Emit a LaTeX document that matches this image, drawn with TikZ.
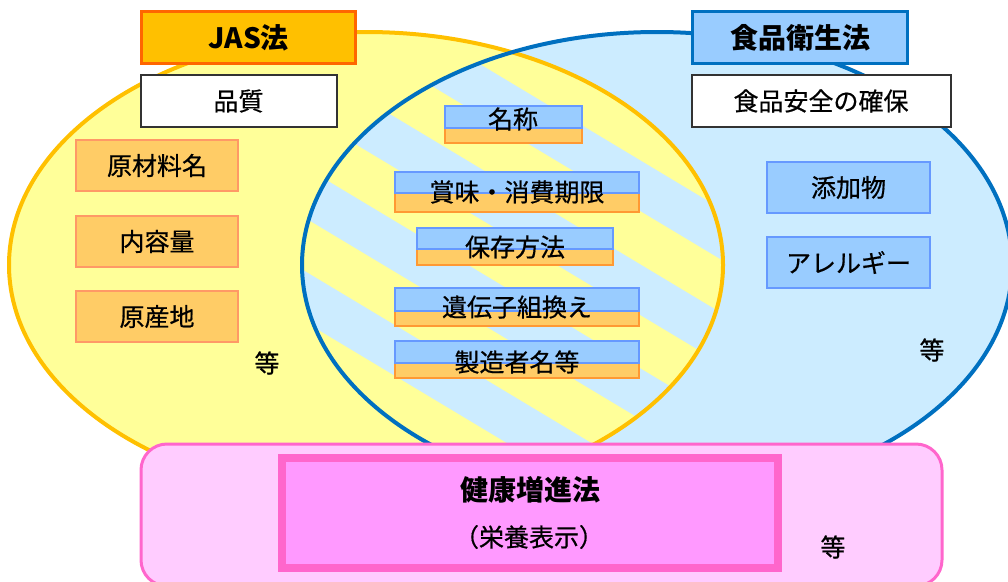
\documentclass[tikz,border=0pt]{standalone}
\usepackage{fontspec}
\setmainfont{Noto Sans CJK JP}
\newfontfamily\medjp{Noto Sans CJK JP}[FakeBold=0.6]
\definecolor{yelFill}{HTML}{FFFF99}
\definecolor{yelLine}{HTML}{FFC000}
\definecolor{bluFill}{HTML}{CCECFF}
\definecolor{bluLine}{HTML}{0070C0}
\definecolor{jasFill}{HTML}{FFC000}
\definecolor{jasLine}{HTML}{FF6600}
\definecolor{hygFill}{HTML}{99CCFF}
\definecolor{oBoxFill}{HTML}{FFCC66}
\definecolor{oBoxLine}{HTML}{FF9966}
\definecolor{oBotLine}{HTML}{FF9933}
\definecolor{bBoxFill}{HTML}{99CCFF}
\definecolor{bBoxLine}{HTML}{6699FF}
\definecolor{pinkFill}{HTML}{FFCCFF}
\definecolor{pinkLine}{HTML}{FF66CC}
\definecolor{pinkIn}{HTML}{FF99FF}
\definecolor{darkLine}{HTML}{333333}
\begin{document}
\begin{tikzpicture}[x=1pt,y=-1pt,
  txt/.style={font=\medjp\fontsize{25}{30}\selectfont, inner sep=0pt},
  ttl/.style={font=\fontsize{28}{32}\selectfont\bfseries, inner sep=0pt},
  obox/.style={draw=oBoxLine, fill=oBoxFill, line width=2pt, minimum width=162pt, minimum height=51pt, inner sep=0pt, font=\medjp\fontsize{25}{30}\selectfont},
  bbox/.style={draw=bBoxLine, fill=bBoxFill, line width=2pt, minimum width=163pt, minimum height=51pt, inner sep=0pt, font=\medjp\fontsize{25}{30}\selectfont},
  wbox/.style={draw=darkLine, fill=white, line width=2pt, minimum height=52pt, inner sep=0pt, font=\medjp\fontsize{25}{30}\selectfont},
  ctop/.style={draw=bBoxLine, fill=bBoxFill, line width=2pt, inner sep=0pt},
  cbot/.style={draw=oBotLine, fill=oBoxFill, line width=2pt, inner sep=0pt}
]
\useasboundingbox (0,0) rectangle (1008,581);
% ellipses fills
\fill[yelFill] (366,265) ellipse [x radius=357pt, y radius=233pt];
\fill[bluFill] (657,265) ellipse [x radius=355pt, y radius=233pt];
% striped intersection
\begin{scope}
  \clip (366,265) ellipse [x radius=357pt, y radius=233pt];
  \clip (657,265) ellipse [x radius=355pt, y radius=233pt];
  \foreach \k in {-5,...,4} {
    \fill[yelFill] (250,{0.6*250+35+104*\k}) -- (800,{0.6*800+35+104*\k})
      -- (800,{0.6*800+88+104*\k}) -- (250,{0.6*250+88+104*\k}) -- cycle;
  }
\end{scope}
% ellipse borders
\draw[yelLine, line width=4pt] (366,265) ellipse [x radius=357pt, y radius=233pt];
\draw[bluLine, line width=4pt] (657,265) ellipse [x radius=355pt, y radius=233pt];
% titles
\node[draw=jasLine, fill=jasFill, line width=3.5pt, minimum width=214pt, minimum height=52pt, inner sep=0pt] (jas) at (248.5,37.5) {};
\node[ttl] (jasT) at (248.5,38) {JAS法};
\node[wbox, minimum width=196pt] (quality) at (238.5,101) {品質};
\node[draw=bluLine, fill=hygFill, line width=3.5pt, minimum width=215pt, minimum height=52pt, inner sep=0pt] (hyg) at (800,37.5) {};
\node[ttl] (hygT) at (800,38) {食品衛生法};
\node[wbox, minimum width=259pt] (safety) at (821,101) {食品安全の確保};
% left items
\node[obox] (genzai) at (157,165.5) {原材料名};
\node[obox] (naiyo) at (157,241.5) {内容量};
\node[obox] (gensan) at (157,316.5) {原産地};
\node[txt] (etcL) at (267,363) {等};
% right items
\node[bbox] (tenka) at (848.5,187.5) {添加物};
\node[bbox] (allergy) at (848.5,262.5) {アレルギー};
\node[txt] (etcR) at (932,350) {等};
% center items
\node[cbot, minimum width=137pt, minimum height=26pt] (c1b) at (513.5,130) {};
\node[ctop, minimum width=137pt, minimum height=22pt] (c1t) at (513.5,117) {};
\node[txt] (c1) at (513,119) {名称};
\node[cbot, minimum width=244pt, minimum height=30pt] (c2b) at (517,197) {};
\node[ctop, minimum width=244pt, minimum height=21pt] (c2t) at (517,182.5) {};
\node[txt] (c2) at (517,192) {賞味・消費期限};
\node[cbot, minimum width=196pt, minimum height=27pt] (c3b) at (515,251.5) {};
\node[ctop, minimum width=196pt, minimum height=21pt] (c3t) at (515,238.5) {};
\node[txt] (c3) at (515,247) {保存方法};
\node[cbot, minimum width=244pt, minimum height=28pt] (c4b) at (517,312) {};
\node[ctop, minimum width=244pt, minimum height=23pt] (c4t) at (517,299.5) {};
\node[txt] (c4) at (517,307) {遺伝子組換え};
\node[cbot, minimum width=244pt, minimum height=27pt] (c5b) at (517,364.5) {};
\node[ctop, minimum width=244pt, minimum height=22pt] (c5t) at (517,352) {};
\node[txt] (c5) at (517,362) {製造者名等};
% health promotion
\draw[pinkLine, fill=pinkFill, line width=3pt, rounded corners=26pt] (141,444) rectangle (942,586);
\node[draw=pinkLine, fill=pinkIn, line width=8pt, minimum width=496pt, minimum height=110pt, inner sep=0pt] (health) at (530,513) {};
\node[ttl] (healthT) at (530,490) {健康増進法};
\node[txt] (nutri) at (529,537) {（栄養表示）};
\node[txt] (etcB) at (833,547) {等};
\end{tikzpicture}
\end{document}
